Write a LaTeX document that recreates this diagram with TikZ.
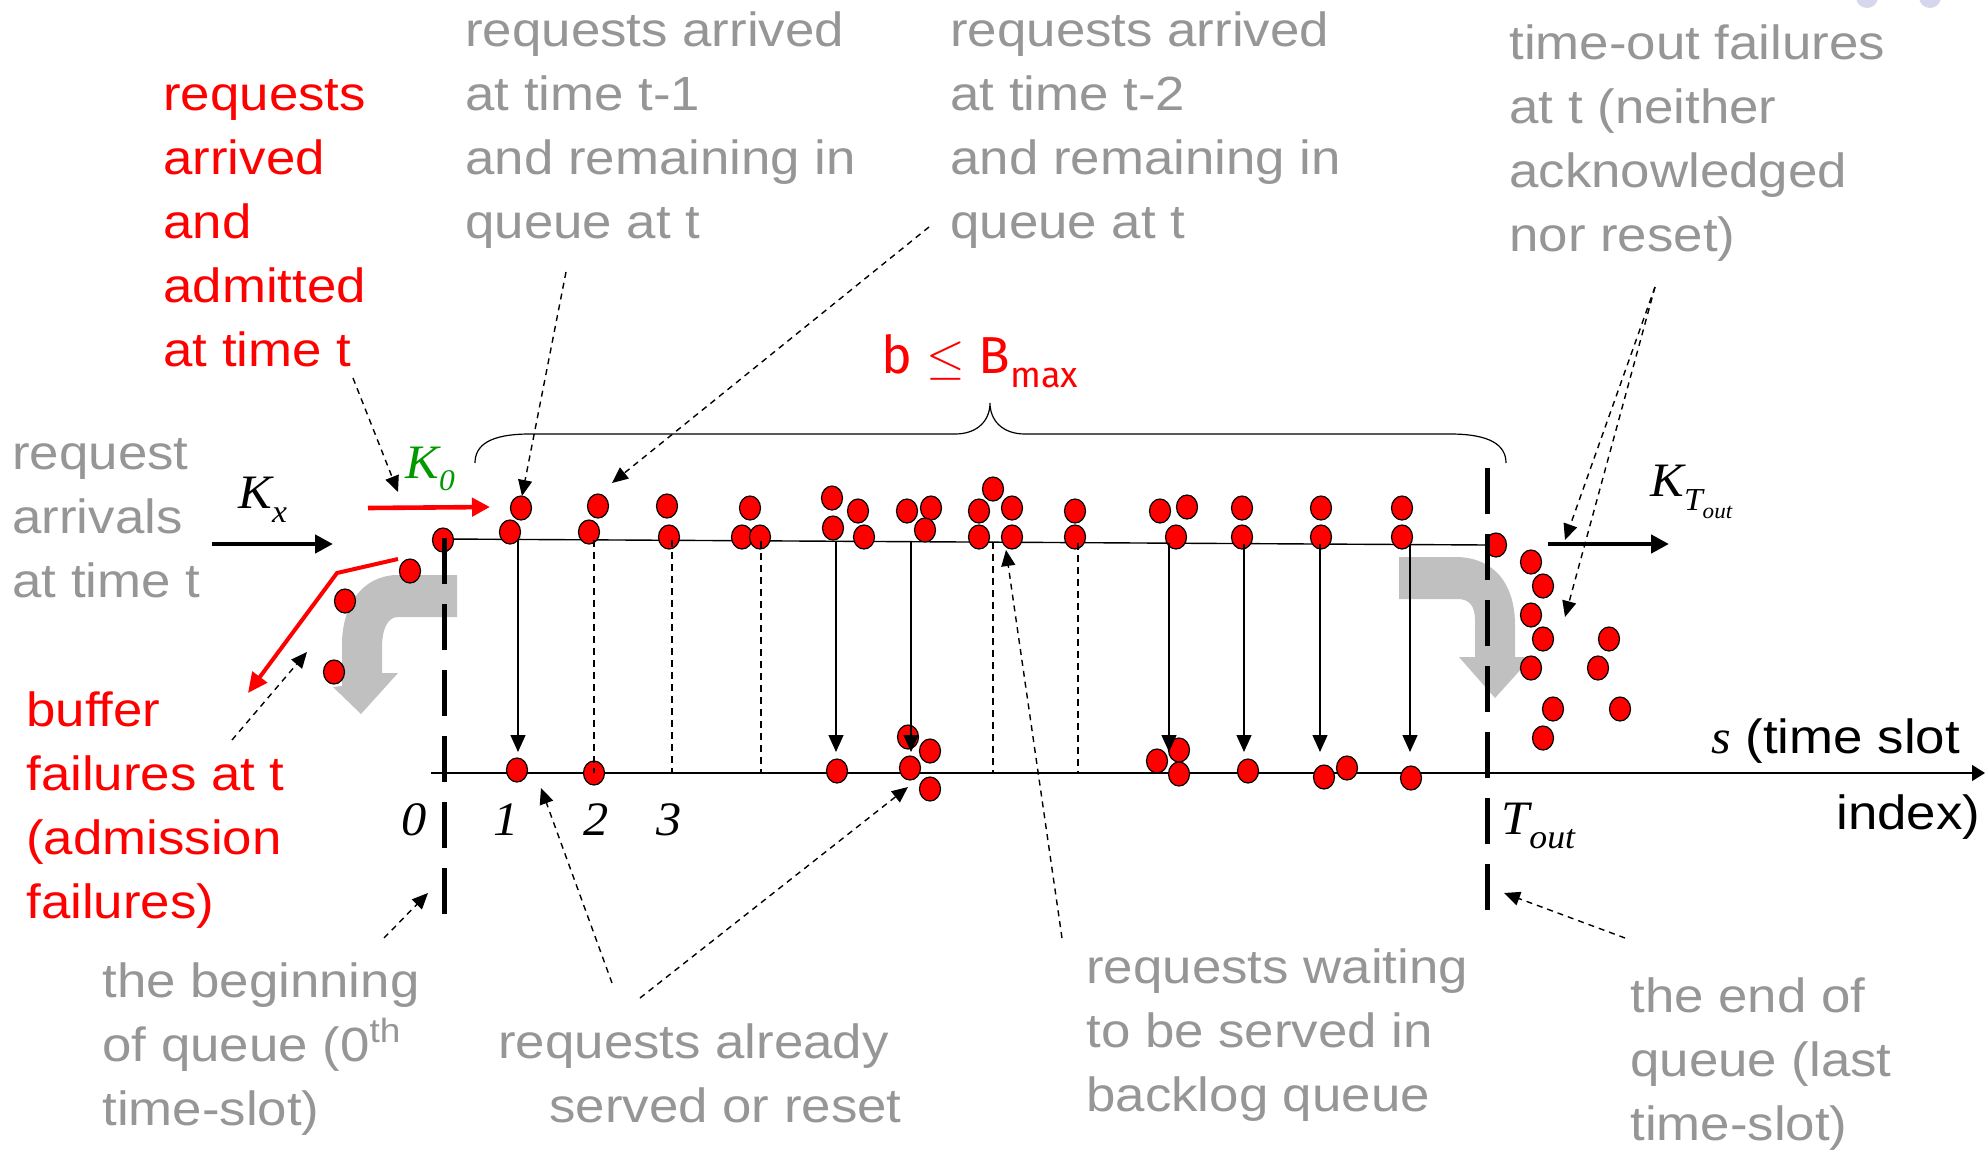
\documentclass[tikz,border=0pt]{standalone}
\usepackage{fontspec}
\setmainfont[FakeStretch=1.1]{Liberation Sans}
\newfontfamily\tms[FakeStretch=1.05]{Liberation Serif}
\newfontfamily\fira{Fira Sans}
\usetikzlibrary{arrows.meta,shapes.geometric}
\definecolor{note}{RGB}{150,150,150}
\definecolor{kgreen}{RGB}{0,153,0}
\definecolor{flow}{RGB}{192,192,192}
\definecolor{lav}{RGB}{214,214,236}
\begin{document}
\begin{tikzpicture}[x=0.5pt,y=-0.5pt,
  lbl/.style={inner sep=0pt, anchor=base west, align=left,
              font=\fontsize{24}{32}\selectfont},
  greytxt/.style={lbl, text=note},
  redtxt/.style={lbl, text=red},
  req/.style={ellipse, draw=black, fill=red, line width=0.6pt,
              minimum width=10.5pt, minimum height=12pt, inner sep=0pt},
  queueline/.style={line width=0.7pt},
  bound/.style={line width=2.5pt, dash pattern=on 23pt off 10pt},
  served/.style={line width=0.7pt, -{Triangle[length=8.5pt,width=7.5pt]}},
  waiting/.style={line width=0.6pt, dash pattern=on 3.5pt off 2.5pt},
  notearrow/.style={line width=0.7pt, dash pattern=on 3pt off 2.5pt,
              -{Triangle[length=8pt,width=7pt]}},
  flowarrow/.style={line width=2.3pt, -{Triangle[length=9pt,width=9pt]}},
  slot/.style={inner sep=0pt, anchor=base, font=\tms\itshape\fontsize{24}{24}\selectfont},
  kfont/.style={inner sep=0pt, anchor=base west, font=\tms\itshape\fontsize{24}{24}\selectfont},
]
\useasboundingbox (0,0) rectangle (1988,1151);
\fill[white] (0,0) rectangle (1988,1151);

% slide decoration at the upper right corner
\fill[lav] (1867,-3) circle (11);
\fill[lav] (1930,-3) circle (11);

% grey bent arrows: admission at the head, time-out at the tail
\fill[flow] (457,575) -- (395,575) .. controls (362,577) and (342,605) .. (342,645)
  -- (342,686) -- (333,687) -- (361,714) -- (398,673) -- (382,673) -- (382,648)
  .. controls (382,628) and (388,617) .. (398,617) -- (457,617) -- cycle;
\fill[flow] (1399,557) -- (1455,557) .. controls (1495,557) and (1515,585) .. (1515,625)
  -- (1515,657) -- (1532,657) -- (1495,698) -- (1459,657) -- (1475,657) -- (1475,620)
  .. controls (1475,607) and (1470,599) .. (1458,599) -- (1399,599) -- cycle;

% queue line and time-slot axis
\coordinate (qstart) at (444,539);
\coordinate (qend) at (1487,545);
\draw[queueline] (qstart) -- (qend);
\coordinate (axstart) at (431,773);
\coordinate (axend) at (1985,773);
\draw[line width=0.7pt, -{Triangle[length=6.5pt,width=8pt]}] (axstart) -- (axend);

% brace over the backlog
\draw[line width=0.6pt] (475,463) .. controls (475,445) and (490,434) .. (530,434)
  -- (955,434) .. controls (978,434) and (990,420) .. (990,403)
  .. controls (990,420) and (1002,434) .. (1025,434)
  -- (1450,434) .. controls (1490,434) and (1506,445) .. (1506,463);
\node[inner sep=0pt, anchor=base west, text=red, font=\fira\fontsize{26}{26}\selectfont]
  (bmax) at (881,373) {b \(\leq\) B\raisebox{-7pt}{\fontsize{18}{18}\selectfont max}};

% requests in the queue, the served ones and the failures
\foreach \px/\py [count=\i] in {443/540,521/508,510/532,598/506,589/532,667/506,669/537,
    750/508,742/537,760/537,832/498,858/511,833/528,864/537,907/511,931/508,925/530,
    993/489,979/511,1012/508,979/537,1012/537,1075/511,1075/537,1160/511,1187/507,
    1176/537,1242/508,1242/537,1321/508,1321/537,1402/508,1402/537,1496/545}
  \node[req] (q\i) at (\px,\py) {};
\foreach \px/\py [count=\i] in {517/770,594/773,837/771,908/737,930/751,910/768,930/789,
    1157/761,1179/750,1179/774,1248/771,1324/777,1347/768,1411/778}
  \node[req] (s\i) at (\px,\py) {};
\foreach \px/\py [count=\i] in {410/571,345/601,334/672}
  \node[req] (bf\i) at (\px,\py) {};
\foreach \px/\py [count=\i] in {1531/562,1543/586,1531/615,1543/639,1531/668,1609/639,
    1598/668,1553/709,1620/709,1543/738}
  \node[req] (tf\i) at (\px,\py) {};

% first and last time slot boundaries
\coordinate (b0top) at (444,538);
\coordinate (b0bot) at (444,917);
\coordinate (bTtop) at (1487,468);
\coordinate (bTbot) at (1487,912);
\draw[bound] (b0top) -- (b0bot);
\draw[bound] (bTtop) -- (bTbot);

% served (solid) and still waiting (dashed) slots
\foreach \px/\py in {518/539.4,836/541,911/541.7,1169/543,1244/543.6,1320/544,1410/544.5}
  \draw[served] (\px,\py) coordinate (sv) -- (\px,752) coordinate (svend);
\foreach \px/\py in {594/540,672/540.3,761/540.8,993/542,1078/542.6}
  \draw[waiting] (\px,\py) coordinate (wt) -- (\px,773) coordinate (wtend);

% flows in and out
\coordinate (kxs) at (212,544);  \coordinate (kxe) at (333,544);
\coordinate (k0s) at (368,508);  \coordinate (k0e) at (490,507);
\coordinate (kts) at (1548,544); \coordinate (kte) at (1669,544);
\draw[flowarrow] (kxs) -- (kxe);
\draw[flowarrow, red] (k0s) -- (k0e);
\draw[flowarrow] (kts) -- (kte);
\coordinate (rj1) at (398,559); \coordinate (rj2) at (337,573); \coordinate (rj3) at (248,693);
\draw[red, line width=2pt, -{Triangle[length=10pt,width=9pt]}] (rj1) -- (rj2) -- (rj3);

\node[kfont] (kx) at (238,508) {K\raisebox{-7pt}{\fontsize{16}{16}\selectfont x}};
\node[kfont, text=kgreen] (k0) at (405,478) {K\raisebox{-6pt}{\fontsize{15}{15}\selectfont 0}};
\node[kfont] (kt) at (1650,496) {K\raisebox{-7pt}{\fontsize{16}{16}\selectfont T\raisebox{-4pt}{\fontsize{11}{11}\selectfont out}}};

% slot indices
\node[slot] (n0) at (414,835) {0};
\node[slot] (n1) at (506,835) {1};
\node[slot] (n2) at (596,835) {2};
\node[slot] (n3) at (669,835) {3};
\node[kfont] (nT) at (1501,834) {T\raisebox{-7pt}{\fontsize{17}{17}\selectfont out}};
\node[lbl] (sx) at (1711,753) {{\tms\itshape s} (time slot};
\node[lbl] (sx2) at (1836,829) {index)};

% explanations (each placed by the baseline of its last line)
\node[redtxt] (admit) at (163,366) {requests\\arrived\\and\\admitted\\at time t};
\node[greytxt] (tm1) at (465,238) {requests arrived\\at time t-1\\and remaining in\\queue at t};
\node[greytxt] (tm2) at (950,238) {requests arrived\\at time t-2\\and remaining in\\queue at t};
\node[greytxt] (tout) at (1509,251) {time-out failures\\at t (neither\\acknowledged\\nor reset)};
\node[greytxt] (arr) at (12,597) {request\\arrivals\\at time t};
\node[redtxt] (buf) at (26,918) {buffer\\failures at t\\(admission\\failures)};
\node[greytxt] (beg) at (102,1125) {the beginning\\of queue (0\textsuperscript{th}\\time-slot)};
\node[greytxt] (done) at (498,1122) {requests already\\\hspace*{25.5pt}served or reset};
\node[greytxt] (wait) at (1086,1111) {requests waiting\\to be served in\\backlog queue};
\node[greytxt] (endq) at (1630,1140) {the end of\\queue (last\\time-slot)};

% pointers from the explanations
\coordinate (p1s) at (353,378);   \coordinate (p1e) at (398,492);
\coordinate (p2s) at (566,272);   \coordinate (p2e) at (522,496);
\coordinate (p3s) at (929,227);   \coordinate (p3e) at (612,483);
\coordinate (p4s) at (1655,287);  \coordinate (p4e) at (1565,540);
\coordinate (p5e) at (1565,617);
\coordinate (p6s) at (232,740);   \coordinate (p6e) at (307,652);
\coordinate (p7s) at (384,938);   \coordinate (p7e) at (428,893);
\coordinate (p8s) at (612,983);   \coordinate (p8e) at (541,788);
\coordinate (p9s) at (640,998);   \coordinate (p9e) at (908,787);
\coordinate (p10s) at (1062,938); \coordinate (p10e) at (1006,550);
\coordinate (p11s) at (1625,938); \coordinate (p11e) at (1504,893);
\foreach \a/\b in {p1s/p1e,p2s/p2e,p3s/p3e,p4s/p4e,p4s/p5e,p6s/p6e,p7s/p7e,
    p8s/p8e,p9s/p9e,p10s/p10e,p11s/p11e}
  \draw[notearrow] (\a) -- (\b);
\end{tikzpicture}
\end{document}
